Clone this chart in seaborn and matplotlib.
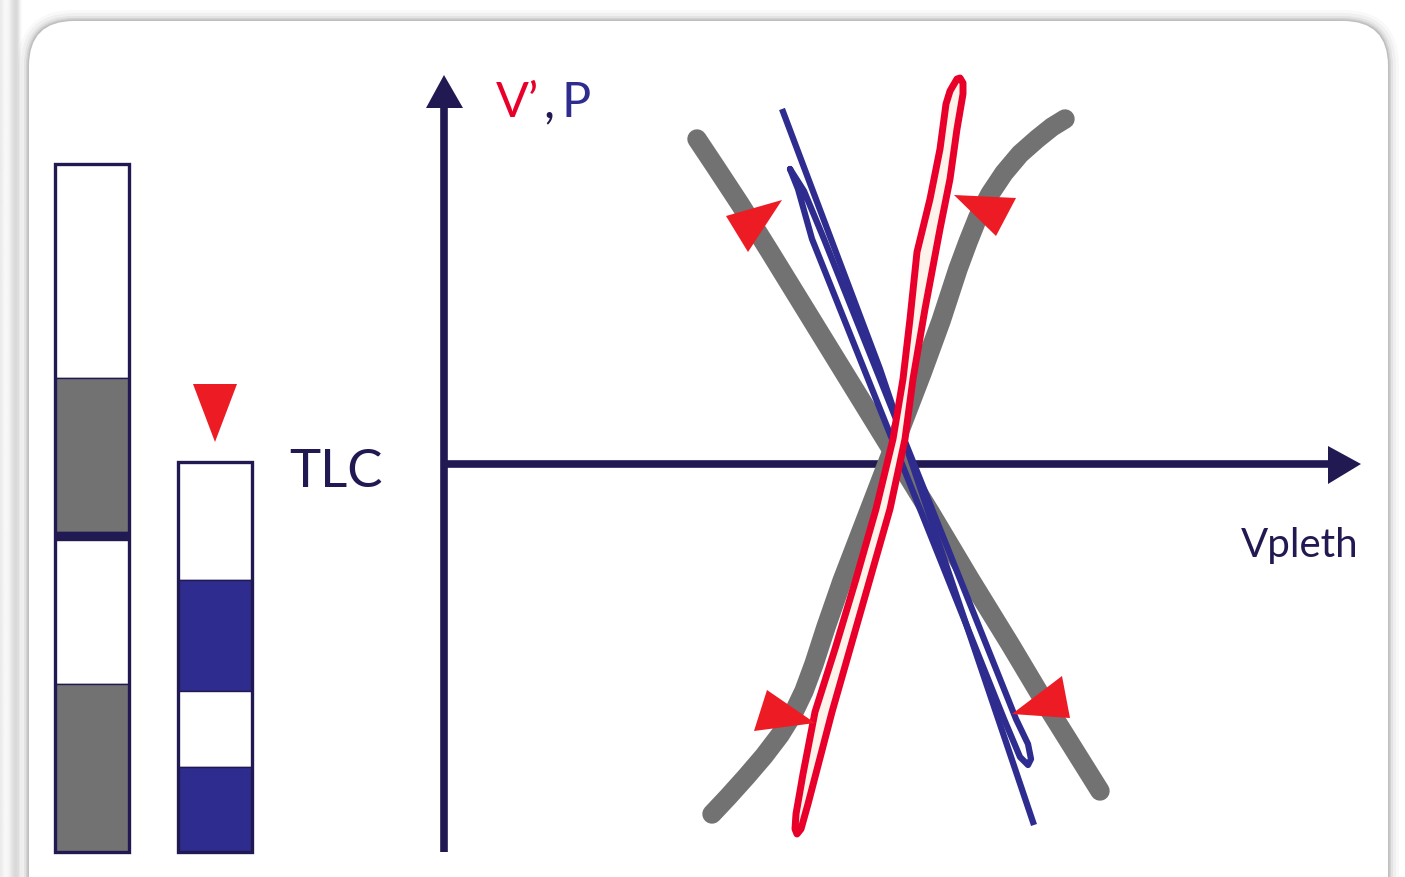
import numpy as np
import pandas as pd
import matplotlib.pyplot as plt
import seaborn as sns
from matplotlib.patches import FancyBboxPatch, Polygon

# colours
navy = "#211a52"
grey = "#727272"
blue = "#2e2c8f"
red_line = "#e8002a"
red_tri = "#ed1c24"
cream = "#fdf3ea"

# left bars: (top, bottom, colour) in picture units
bar1_tops = [165, 379, 533, 541, 685]
bar1_bottoms = [379, 533, 541, 685, 853]
bar1_colors = ["white", grey, navy, "white", grey]

bar2_tops = [463, 581, 692, 768]
bar2_bottoms = [581, 692, 768, 853]
bar2_colors = ["white", blue, "white", blue]

# curves
grey_down_x = [697, 715, 740, 770, 810, 850, 890, 930, 970, 1010, 1050, 1100]
grey_down_y = [140, 167, 205, 253, 318, 383, 448, 513, 580, 645, 712, 792]

grey_up_x = [712, 728, 746, 764, 780, 793, 804, 814, 826, 842, 862, 882, 902, 922, 941, 958,
             968, 978, 990, 1004, 1020, 1037, 1052, 1065]
grey_up_y = [815, 798, 778, 757, 736, 715, 692, 665, 628, 582, 530, 478, 426, 374, 322, 270,
             243, 218, 195, 174, 155, 140, 128, 120]

blue_line_x = [782, 880, 1034]
blue_line_y = [110, 370, 826]

blue_loop_x = [790, 798, 812, 844, 876, 908, 940, 972, 1004, 1020, 1028, 1031, 1028,
               1016, 984, 952, 920, 888, 856, 824, 804, 790]
blue_loop_y = [170, 190, 240, 320, 400, 480, 560, 640, 720, 758, 766, 760, 745,
               720, 640, 560, 480, 400, 320, 240, 192, 170]

red_loop_x = [957, 950, 946, 940, 930, 917, 910, 903, 893, 876, 856, 835, 815, 803, 796, 795,
              797, 801, 808, 832, 850, 870, 890, 905, 913, 925, 940, 950, 957, 963, 963, 960, 957]
red_loop_y = [80, 92, 105, 150, 200, 253, 320, 380, 440, 510, 580, 650, 713, 775, 815, 830,
              835, 830, 805, 713, 650, 580, 510, 440, 380, 310, 230, 180, 130, 95, 84, 79, 80]

arrowheads = [
    [(726, 217), (782, 201), (748, 253)],
    [(954, 196), (1016, 199), (996, 237)],
    [(767, 691), (815, 724), (754, 732)],
    [(1062, 677), (1070, 719), (1012, 715)],
]
tlc_marker = [(193, 385), (237, 385), (215, 443)]

sns.set_theme(style="white")
plt.rcParams["font.family"] = ["Lato", "DejaVu Sans"]

fig = plt.figure(figsize=(14.05, 8.78), dpi=100)
fig.patch.set_facecolor("white")
ax = fig.add_axes([0, 0, 1, 1])
ax.set_facecolor("white")

# neighbouring card edge on the far left
strip = [0.92, 0.94, 0.96, 0.97, 0.97, 0.96, 0.94, 0.91, 0.88, 0.86, 0.85, 0.86, 0.9,
         0.96, 0.99, 1.0, 1.0, 1.0]
ax.imshow(np.array(strip)[None, :], extent=(0, 27, 878, 0), cmap="gray",
          vmin=0, vmax=1, aspect="auto", zorder=0)

# card with soft shadow
for pad, a in [(11, 0.025), (8, 0.035), (5, 0.05), (3, 0.07), (1.5, 0.09)]:
    ax.add_patch(FancyBboxPatch((29 - pad, 22 - pad), 1359 + 2 * pad, 900 + 2 * pad,
                                boxstyle=f"round,pad=0,rounding_size={45 + pad}",
                                fc="black", ec="none", alpha=a, zorder=1))
ax.add_patch(FancyBboxPatch((29, 22), 1359, 900, boxstyle="round,pad=0,rounding_size=45",
                            fc="white", ec="none", zorder=2))

# bars
for tops, bottoms, cols, x0 in [(bar1_tops, bar1_bottoms, bar1_colors, 55),
                                (bar2_tops, bar2_bottoms, bar2_colors, 178)]:
    heights = [b - t for t, b in zip(tops, bottoms)]
    ax.bar([x0 + 37] * len(tops), heights, bottom=tops, width=74, color=cols,
           edgecolor=navy, linewidth=1.0, zorder=3)
    ax.bar([x0 + 37], [bottoms[-1] - tops[0]], bottom=[tops[0]], width=74, color="none",
           edgecolor=navy, linewidth=2.4, zorder=4)

ax.add_patch(Polygon(tlc_marker, closed=True, fc=red_tri, ec="none", zorder=4))

# axes arrows
ax.plot([444, 444], [853, 100], color=navy, linewidth=5.5, solid_capstyle="butt", zorder=3)
ax.add_patch(Polygon([(426, 109), (463, 109), (444, 76)], closed=True, fc=navy, ec="none", zorder=3))
ax.plot([444, 1332], [465, 465], color=navy, linewidth=5.5, solid_capstyle="butt", zorder=3)
ax.add_patch(Polygon([(1328, 447), (1328, 485), (1361, 465)], closed=True, fc=navy, ec="none", zorder=3))


def draw_curve(xs, ys, color, width, cap, z):
    n0 = len(ax.lines)
    sns.lineplot(x=xs, y=ys, sort=False, estimator=None, color=color, ax=ax, zorder=z)
    for ln in ax.lines[n0:]:
        ln.set_linewidth(width)
        ln.set_solid_capstyle(cap)
        ln.set_solid_joinstyle("round")


# curves
draw_curve(grey_down_x, grey_down_y, grey, 14, "round", 5)
draw_curve(grey_up_x, grey_up_y, grey, 14, "round", 5)
draw_curve(blue_line_x, blue_line_y, blue, 4.5, "butt", 6)
draw_curve(blue_loop_x, blue_loop_y, blue, 4.5, "round", 6)

ax.fill(red_loop_x, red_loop_y, fc=cream, ec=red_line, linewidth=5, joinstyle="round", zorder=7)

for tri in arrowheads:
    ax.add_patch(Polygon(tri, closed=True, fc=red_tri, ec="none", zorder=8))

# labels
ax.text(289, 487, "TLC", fontsize=38, color=navy, va="baseline", ha="left", zorder=9)
ax.text(1241, 557, "Vpleth", fontsize=29, color=navy, va="baseline", ha="left", zorder=9)
ax.text(496, 117, "V\u2019", fontsize=35, color=red_line, va="baseline", ha="left", zorder=9)
ax.text(543, 117, ",", fontsize=35, color=navy, va="baseline", ha="left", zorder=9)
ax.text(562, 117, "P", fontsize=35, color=blue, va="baseline", ha="left", zorder=9)

ax.set_xlim(0, 1405)
ax.set_ylim(878, 0)
ax.axis("off")
fig.savefig("out.png", dpi=100, facecolor=fig.get_facecolor())
